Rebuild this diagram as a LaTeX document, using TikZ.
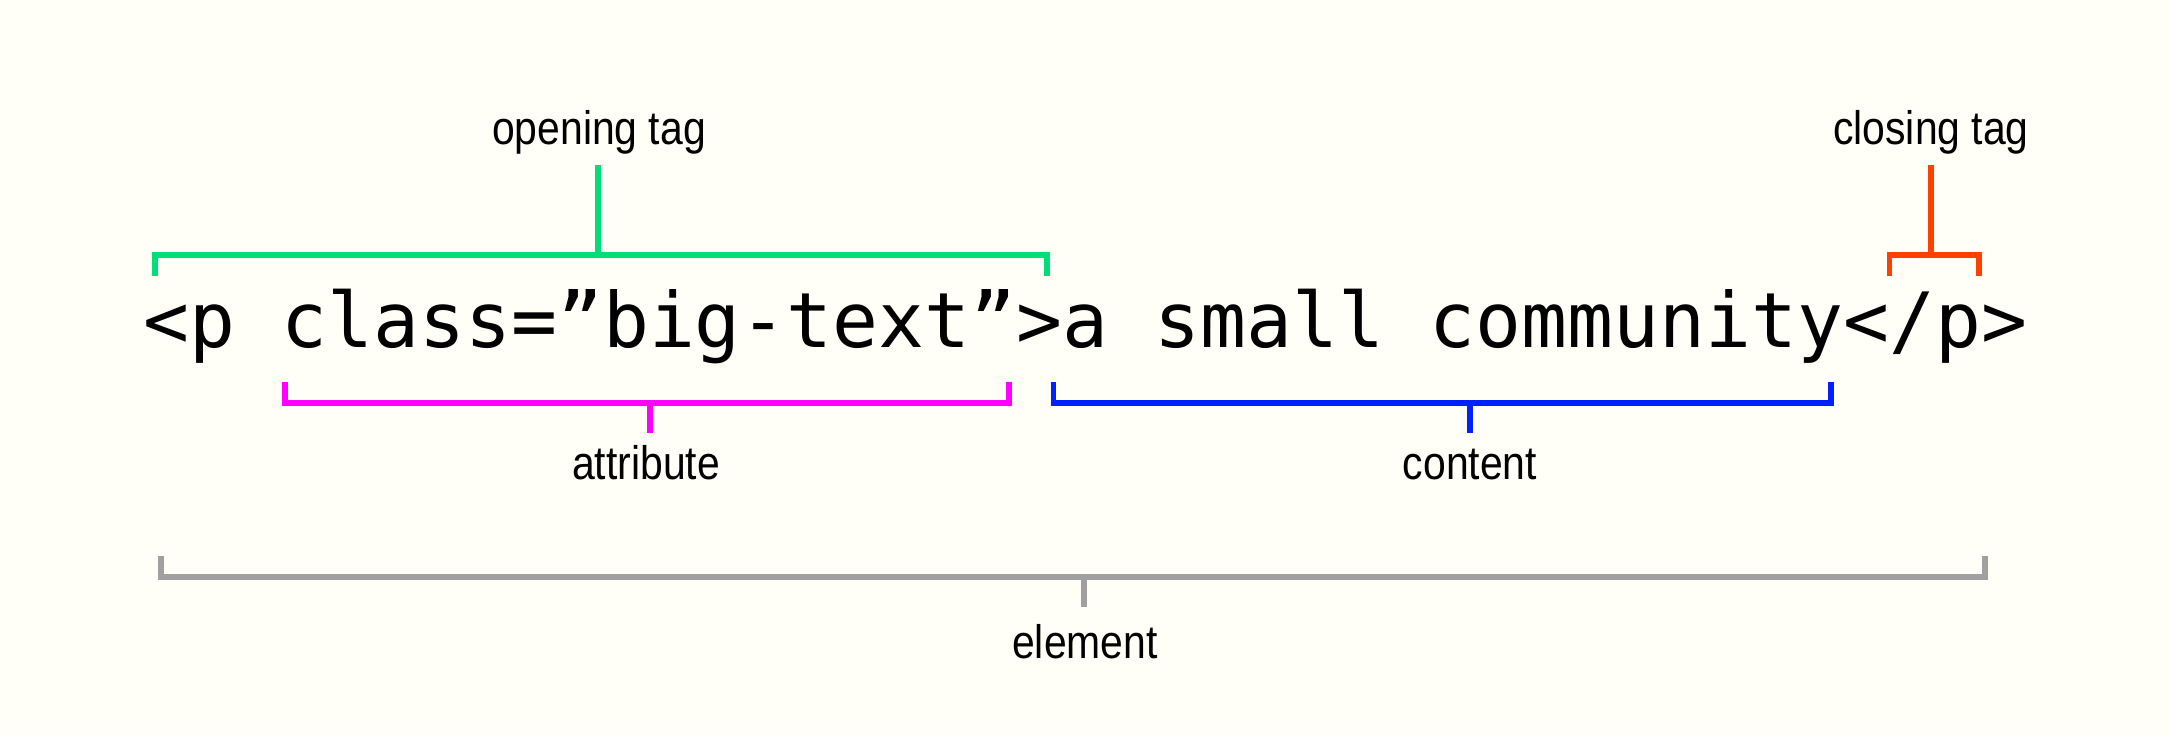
\documentclass[tikz,border=0pt]{standalone}
\usepackage{fontspec}
\usepackage{tikz}
\newfontfamily\labelfont[FakeStretch=0.87]{Liberation Sans}
\newfontfamily\codefont{DejaVu Sans Mono}
\definecolor{paper}{RGB}{255,254,247}
\definecolor{opengreen}{RGB}{0,222,122}
\definecolor{attrpink}{RGB}{255,0,255}
\definecolor{contblue}{RGB}{0,32,255}
\definecolor{closered}{RGB}{255,64,0}
\definecolor{elemgray}{RGB}{160,160,160}
\tikzset{
    lbl/.style={font=\labelfont\fontsize{13.37pt}{16pt}\selectfont, inner sep=0pt, anchor=base},
    codetext/.style={font=\codefont\fontsize{21.7pt}{26pt}\selectfont, inner sep=0pt, anchor=base west},
    brace/.style={line width=1.62pt, miter limit=10}
}

\begin{document}
\begin{tikzpicture}[x=0.01cm, y=-0.01cm]

        %background
        \fill[paper] (0,0) rectangle (2169,735);
        \useasboundingbox (0,0) rectangle (2169,735);

        %code line
        \node[codetext] (code) at (143,347) {<p class=”big-text”>a small community</p>};

        %labels
        \node[lbl] (opentag) at (599,144) {opening tag};
        \node[lbl] (closetag) at (1931,144) {closing tag};
        \node[lbl] (attr) at (646,479) {attribute};
        \node[lbl] (cont) at (1470,479) {content};
        \node[lbl] (elem) at (1085,658) {element};

        %stem ends
        \coordinate (opentop) at (598,165);
        \coordinate (openmid) at (598,255);
        \coordinate (closetop) at (1931,165);
        \coordinate (closemid) at (1931,255);
        \coordinate (attrmid) at (650,403);
        \coordinate (attrend) at (650,433);
        \coordinate (contmid) at (1470,403);
        \coordinate (contend) at (1470,433);
        \coordinate (elemmid) at (1084,577);
        \coordinate (elemend) at (1084,607);

        %opening tag
        \draw[brace, opengreen] (opentop) -- (openmid);
        \draw[brace, opengreen] (155,276) |- (openmid) -| (1047,276);

        %closing tag
        \draw[brace, closered] (closetop) -- (closemid);
        \draw[brace, closered] (1889.5,276) |- (closemid) -| (1979,276);

        %attribute
        \draw[brace, attrpink] (285,382) |- (attrmid) -| (1009,382);
        \draw[brace, attrpink] (attrmid) -- (attrend);

        %content
        \draw[brace, contblue] (1053.5,382) |- (contmid) -| (1831,382);
        \draw[brace, contblue] (contmid) -- (contend);

        %element
        \draw[brace, elemgray] (161,556) |- (elemmid) -| (1985,556);
        \draw[brace, elemgray] (elemmid) -- (elemend);

\end{tikzpicture}
\end{document}
